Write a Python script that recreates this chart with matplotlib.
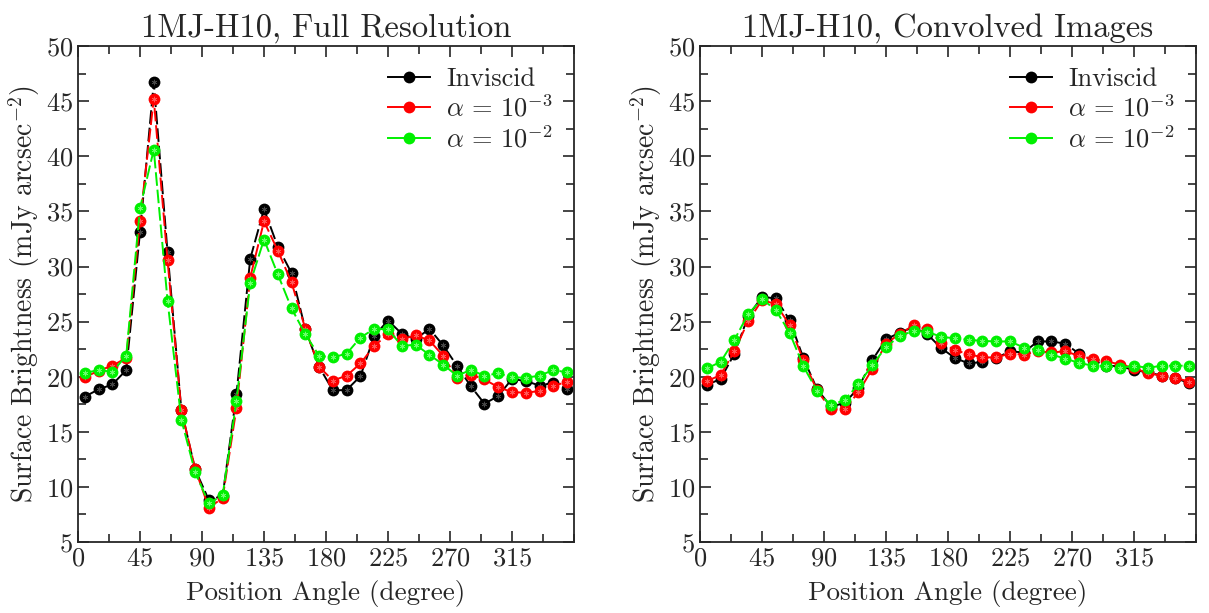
import numpy as np
import matplotlib
matplotlib.use("Agg")
import matplotlib.pyplot as plt
from matplotlib.lines import Line2D
from matplotlib.ticker import MultipleLocator, FixedLocator

plt.rcParams["font.family"] = "serif"
plt.rcParams["font.serif"] = ["cmr10", "DejaVu Serif"]
plt.rcParams["mathtext.fontset"] = "cm"
plt.rcParams["axes.unicode_minus"] = False
plt.rcParams["axes.formatter.use_mathtext"] = True

# position angle of each azimuthal bin (degrees)
ANGLE = np.arange(5, 360, 10)

# full resolution profiles (mJy arcsec^-2)
FULL_INVISCID = [18.2, 18.85, 19.3, 20.6, 33.1, 46.7, 31.3, 17.0, 11.6, 8.8,
                 9.2, 18.4, 30.7, 35.2, 31.8, 29.4, 24.3, 20.9, 18.75, 18.8,
                 20.05, 23.7, 25.1, 23.9, 23.4, 24.35, 22.85, 21.0, 19.15, 17.55,
                 18.25, 19.8, 19.6, 19.2, 19.45, 18.85]
FULL_A3 = [19.95, 20.55, 21.0, 21.7, 34.1, 45.2, 30.55, 17.0, 11.65, 8.1,
           9.0, 17.15, 29.0, 34.1, 31.45, 28.55, 24.35, 20.9, 19.65, 20.1,
           21.2, 22.8, 23.85, 23.4, 23.75, 23.3, 21.9, 19.9, 20.2, 19.75,
           19.05, 18.6, 18.55, 18.7, 19.2, 19.5]
FULL_A2 = [20.35, 20.6, 20.45, 21.9, 35.3, 40.6, 26.9, 16.1, 11.35, 8.5,
           9.25, 17.8, 28.5, 32.45, 29.3, 26.2, 23.85, 21.9, 21.75, 22.1,
           23.55, 24.35, 24.3, 22.8, 22.9, 22.0, 21.1, 20.1, 20.6, 20.1,
           20.3, 19.95, 19.9, 20.1, 20.6, 20.4]

# convolved profiles
CONV_INVISCID = [19.25, 19.8, 22.1, 25.5, 27.25, 27.1, 25.15, 21.7, 18.85, 17.3,
                 17.6, 19.0, 21.5, 23.4, 24.0, 24.5, 23.85, 22.6, 21.7, 21.2,
                 21.35, 21.7, 22.3, 22.2, 23.2, 23.2, 23.0, 22.1, 21.5, 21.0,
                 20.95, 20.6, 20.4, 20.1, 19.9, 19.4]
CONV_A3 = [19.6, 20.15, 22.35, 25.05, 26.95, 26.6, 24.7, 21.5, 18.75, 17.05,
           17.05, 18.6, 20.7, 23.0, 23.9, 24.65, 24.3, 23.1, 22.4, 22.05,
           21.75, 21.75, 22.1, 22.0, 22.3, 22.2, 22.3, 21.9, 21.6, 21.4,
           21.1, 20.8, 20.3, 20.1, 19.9, 19.55]
CONV_A2 = [20.75, 21.35, 23.35, 25.7, 27.05, 26.05, 24.0, 20.95, 18.7, 17.4,
           17.9, 19.3, 21.05, 22.7, 23.7, 24.15, 24.1, 23.6, 23.5, 23.35,
           23.25, 23.2, 23.2, 22.65, 22.4, 22.0, 21.65, 21.25, 21.0, 21.0,
           20.8, 21.0, 20.8, 21.0, 21.0, 21.0]

TITLES = ["1MJ-H10, Full Resolution", "1MJ-H10, Convolved Images"]
LABELS = ["Inviscid", r"$\alpha\,=\,10^{-3}$", r"$\alpha\,=\,10^{-2}$"]
COLORS = ["black", "#ff0000", "#00f000"]
STAR_COLORS = ["#484848", "#ff5a5a", "#70ff70"]

INK = "#262626"


def draw_panel(ax, series, title):
    handles = []
    for vals, lab, col, scol in zip(series, LABELS, COLORS, STAR_COLORS):
        ax.plot(ANGLE, vals, "-", color=col, lw=1.4, dashes=(7, 2),
                marker="o", markersize=8.5, markeredgewidth=0)
        ax.plot(ANGLE, vals, linestyle="none", marker=(6, 2, 0),
                markersize=4, markeredgewidth=0.4, color=scol)
        handles.append(Line2D([], [], color=col, lw=1.4, marker="o",
                              markersize=8.5, markeredgewidth=0, label=lab))

    ax.set_xlim(0, 360)
    ax.set_ylim(5, 50)
    ax.xaxis.set_major_locator(FixedLocator(np.arange(0, 316, 45)))
    ax.xaxis.set_minor_locator(MultipleLocator(22.5))
    ax.yaxis.set_major_locator(MultipleLocator(5))
    ax.yaxis.set_minor_locator(MultipleLocator(2.5))
    ax.tick_params(which="both", direction="in", top=True, right=True,
                   colors=INK, labelsize=19, width=1.2)
    ax.tick_params(which="major", length=8)
    ax.tick_params(which="minor", length=6)
    for sp in ax.spines.values():
        sp.set_color(INK)
        sp.set_linewidth(1.3)

    ax.set_xlabel("Position Angle (degree)", fontsize=19.5, color=INK, labelpad=7)
    ax.set_ylabel(r"Surface Brightness (mJy arcsec$^{-2}$)", fontsize=20,
                  color=INK, labelpad=3)
    ax.set_title(title, fontsize=23.5, color=INK, pad=7)
    ax.legend(handles=handles, loc="upper right", frameon=False, fontsize=19,
              handlelength=1.6, handletextpad=0.6, labelspacing=0.15,
              borderaxespad=0.4, labelcolor=INK)


def main():
    fig = plt.figure(figsize=(12.09, 6.13), dpi=100)
    ax1 = fig.add_axes([0.0645, 0.1158, 0.4103, 0.809])
    ax2 = fig.add_axes([0.579, 0.1158, 0.4103, 0.809])

    draw_panel(ax1, [FULL_INVISCID, FULL_A3, FULL_A2], TITLES[0])
    draw_panel(ax2, [CONV_INVISCID, CONV_A3, CONV_A2], TITLES[1])

    fig.savefig("out.png", dpi=100)


if __name__ == "__main__":
    main()
